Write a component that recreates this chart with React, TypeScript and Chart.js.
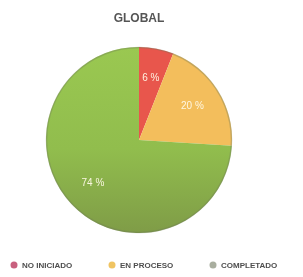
import React, { useEffect, useRef } from "react";
import { Chart, registerables } from "chart.js";

Chart.register(...registerables);

const categories = ["NO INICIADO", "EN PROCESO", "COMPLETADO"];
const values = [6, 20, 74];
const valueLabels = ["6 %", "20 %", "74 %"];
const sliceColors = ["#e8564c", "#f3be5c", "#97c451"];
const legendColors = ["#c8607e", "#f0c462", "#a9ae9f"];
const titleText = "GLOBAL";

const overlayPlugin = {
  id: "overlay",
  afterDatasetsDraw(chart: any) {
    const ctx = chart.ctx;
    const meta = chart.getDatasetMeta(0);
    const arcs = meta.data;
    if (!arcs.length) return;
    const a0: any = arcs[0];
    ctx.save();
    ctx.beginPath();
    ctx.arc(a0.x, a0.y, a0.outerRadius - 0.5, 0, Math.PI * 2);
    ctx.strokeStyle = "rgba(110,120,90,0.35)";
    ctx.lineWidth = 1.5;
    ctx.stroke();
    ctx.font = "10px 'Liberation Sans', Arial, sans-serif";
    ctx.fillStyle = "rgba(255,250,232,0.95)";
    ctx.textAlign = "center";
    ctx.textBaseline = "middle";
    arcs.forEach((arc: any, i: number) => {
      const mid = (arc.startAngle + arc.endAngle) / 2;
      const r = arc.outerRadius * 0.68;
      ctx.fillText(valueLabels[i], arc.x + Math.cos(mid) * r, arc.y + Math.sin(mid) * r);
    });
    ctx.restore();
  },
  afterDraw(chart: any) {
    const ctx = chart.ctx;
    const markerX = [14, 112, 213];
    const y = 265;
    ctx.save();
    ctx.font = "bold 8px 'Liberation Sans', Arial, sans-serif";
    ctx.textBaseline = "middle";
    ctx.textAlign = "left";
    categories.forEach((c, i) => {
      ctx.beginPath();
      ctx.arc(markerX[i], y, 3.5, 0, Math.PI * 2);
      ctx.fillStyle = legendColors[i];
      ctx.fill();
      ctx.fillStyle = "#4e4e4e";
      ctx.fillText(c, markerX[i] + 8, y + 0.5);
    });
    ctx.restore();
  },
};

export default function App() {
  const ref = useRef<HTMLCanvasElement>(null);
  useEffect(() => {
    if (!ref.current) return;
    const chart = new Chart(ref.current, {
      type: "pie",
      data: {
        labels: categories,
        datasets: [
          {
            data: values,
            backgroundColor: (c: any) => {
              const i = c.dataIndex;
              const area = c.chart.chartArea;
              if (i === 2 && area) {
                const g = c.chart.ctx.createLinearGradient(0, area.top, 0, area.bottom);
                g.addColorStop(0, "#9ac851");
                g.addColorStop(0.55, "#91bd4d");
                g.addColorStop(1, "#7f9c47");
                return g;
              }
              return sliceColors[i];
            },
            borderWidth: 0,
            hoverOffset: 0,
          },
        ],
      },
      options: {
        animation: false,
        responsive: false,
        layout: { padding: { left: 0, right: 25, top: 0, bottom: 44 } },
        plugins: {
          legend: { display: false },
          tooltip: { enabled: false },
          title: {
            display: true,
            text: titleText,
            color: "#555555",
            font: { size: 12, weight: "bold", family: "'Liberation Sans', Arial, sans-serif" },
            padding: { top: 11, bottom: 21.6 },
          },
        },
      },
      plugins: [overlayPlugin],
    });
    return () => chart.destroy();
  }, []);
  return (
    <div style={{ position: "fixed", left: 0, top: 0, width: 303, height: 277, background: "#fff" }}>
      <canvas ref={ref} width={303} height={277} style={{ display: "block" }} />
    </div>
  );
}
